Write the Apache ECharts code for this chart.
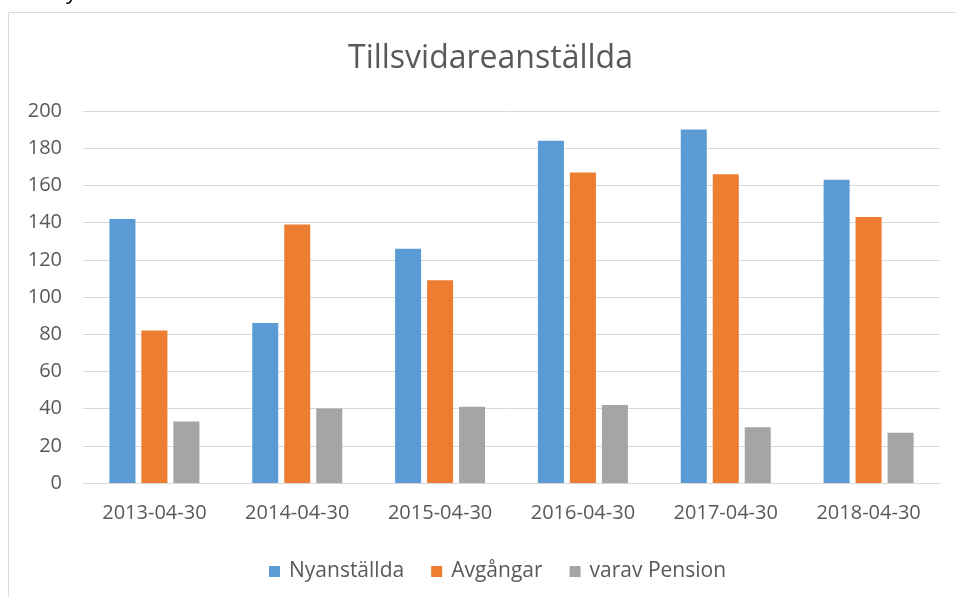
<!DOCTYPE html>
<html><head><meta charset="utf-8">
<script src="https://cdn.jsdelivr.net/npm/echarts@6/dist/echarts.min.js"></script>
<style>html,body{margin:0;padding:0;background:#fff}#c{width:956px;height:597px}</style>
</head><body><div id="c"></div>
<script>
const categories = ['2013-04-30','2014-04-30','2015-04-30','2016-04-30','2017-04-30','2018-04-30'];
const nyanstallda = [142, 86, 126, 184, 190, 163];
const avgangar = [82, 139, 109, 167, 166, 143];
const pension = [33, 40, 41, 42, 30, 27];
const yTicks = {min: 0, max: 200, interval: 20};

const font = '"Open Sans", sans-serif';
const chart = echarts.init(document.getElementById('c'), null, {renderer: 'canvas'});
chart.setOption({
  animation: false,
  backgroundColor: '#fff',
  title: {text: 'Tillsvidareanställda', left: 343, top: 38,
    textStyle: {fontFamily: font, fontSize: 32, fontWeight: 'normal', color: '#595959'}},
  legend: {top: 556, left: 264, itemWidth: 11, itemHeight: 11, itemGap: 27,
    icon: 'rect', textStyle: {fontFamily: font, fontSize: 21, color: '#595959', padding: [0, 0, 0, 4]}},
  grid: {left: 83, right: 16, top: 111, bottom: 114},
  xAxis: {type: 'category', data: categories,
    axisLine: {lineStyle: {color: '#d9d9d9'}}, axisTick: {show: false},
    axisLabel: {fontFamily: font, fontSize: 20, color: '#595959', margin: 20}},
  yAxis: {type: 'value', min: yTicks.min, max: yTicks.max, interval: yTicks.interval,
    axisLine: {show: false}, axisTick: {show: false},
    splitLine: {lineStyle: {color: '#d9d9d9', width: 1}},
    axisLabel: {fontFamily: font, fontSize: 20, color: '#595959', margin: 21}},
  graphic: [
    {type: 'rect', shape: {x: 8.5, y: 12.5, width: 1000, height: 600},
      style: {fill: 'none', stroke: '#d9d9d9', lineWidth: 1}, z: -1},
    {type: 'text', x: 66, y: -18, style: {text: 'y', fontSize: 22, fontFamily: font, fill: '#000'}}
  ],
  series: [
    {name: 'Nyanställda', type: 'bar', data: nyanstallda, itemStyle: {color: '#5b9bd5'}, barGap: '23%', barCategoryGap: '37%'},
    {name: 'Avgångar', type: 'bar', data: avgangar, itemStyle: {color: '#ed7d31'}},
    {name: 'varav Pension', type: 'bar', data: pension, itemStyle: {color: '#a5a5a5'}}
  ]
});
</script></body></html>
